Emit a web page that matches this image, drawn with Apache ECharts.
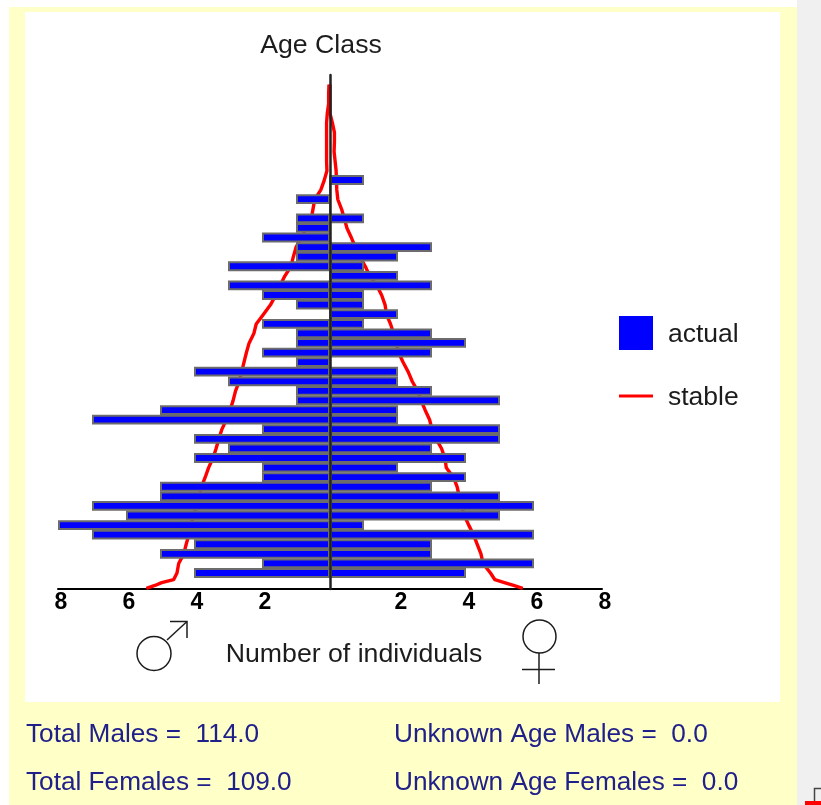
<!DOCTYPE html>
<html>
<head>
<meta charset="utf-8">
<style>
html, body { margin: 0; padding: 0; background: #fff; }
#chart { width: 821px; height: 805px; }
</style>
<script src="https://cdn.jsdelivr.net/npm/echarts@6/dist/echarts.min.js"></script>
</head>
<body>
<div id="chart"></div>
<script>
// rows that hold bars, youngest first
var ageClasses = ["1","2","3","4","5","6","7","8","9","10","11","12","13","14","15","16","17","18","19","20","21",
  "22","23","24","25","26","27","28","29","30","31","32","33","34","35","36","37","38","39","40","41","42"];
var actualMales = [4,2,5,4,7,8,6,7,5,5,2,2,4,3,4,2,7,5,1,1,3,4,1,2,1,1,
  2,0,1,2,3,0,3,1,1,2,1,1,0,1,0,0];
var actualFemales = [4,6,3,3,6,1,5,6,5,3,4,2,4,3,5,5,2,2,5,3,2,2,0,3,4,3,
  1,2,1,1,3,2,1,2,3,0,0,1,0,0,0,1];

// stable age distribution
var stableAges = [-0.6,-0.3,0,0.3,1,2,3,4,5,6,7,8,9,10,11,12,13,14,15,16,17,18,19,20,21,22,23,24,25,26,
  27,28,29,30,31,32,33,34,35,36,37,38,39,40,41,42,43,44,45,46,47,48,49,50,51,52];
var stableMales = [5.4,5.15,4.95,4.6,4.5,4.45,4.3,4.23,4.15,4.1,4.0,3.93,3.85,3.78,3.67,3.57,3.44,3.35,3.27,3.18,
  3.05,2.94,2.85,2.78,2.67,2.6,2.53,2.46,2.38,2.24,2.17,1.96,1.75,1.6,1.47,1.33,1.15,1.08,1.0,0.85,0.7,0.55,0.5,
  0.45,0.27,0.17,0.09,0.1,0.1,0.1,0.1,0.1,0.08,0.04,0.04,0.03];
var stableFemales = [5.67,5.4,5.13,4.85,4.72,4.5,4.44,4.33,4.22,4.08,3.95,3.87,3.8,3.74,3.63,3.42,3.38,3.28,3.12,
  3.0,2.93,2.8,2.68,2.58,2.42,2.3,2.15,2.02,1.95,1.87,1.78,1.66,1.62,1.52,1.38,1.17,1.04,0.88,0.75,0.63,0.5,0.42,
  0.34,0.23,0.2,0.19,0.18,0.15,0.12,0.13,0.13,0.07,0,0,0,0];

var axisTicks = [-8,-6,-4,-2,2,4,6,8];
var summary = [
  ["Total Males =  114.0", "Unknown Age Males =  0.0"],
  ["Total Females =  109.0", "Unknown Age Females =  0.0"]
];

var FONT = '"Liberation Sans", Arial, sans-serif';
var NAVY = "#20208a";
var INK = "#1c1c1c";
var SUMMARY_FONT = "26.2px " + FONT;

var chartDom = document.getElementById("chart");
var myChart = echarts.init(chartDom);

function negate(list) {
  return list.map(function (v) { return -v; });
}
function pairUp(xs, ys) {
  return xs.map(function (x, i) { return [x, ys[i]]; });
}
function absLabel(v) {
  return axisTicks.indexOf(v) >= 0 ? String(Math.abs(v)) : "";
}

// echarts keeps the bar border inside barWidth
var barStyle = { color: "#0000ff", borderColor: "#6c6c6c", borderWidth: 2 };
var stableStyle = { color: "#ff0000", width: 3.4 };

var option = {
  animation: false,
  backgroundColor: "#ffffff",
  textStyle: { fontFamily: FONT },
  graphic: [
    { type: "rect", z: -10, silent: true, shape: { x: 797, y: 0, width: 24, height: 805 }, style: { fill: "#f0f0f0" } },
    { type: "rect", z: -10, silent: true, shape: { x: 9, y: 7, width: 788, height: 798 }, style: { fill: "#ffffc8" } },
    { type: "rect", z: -9, silent: true, shape: { x: 25, y: 12, width: 755, height: 690 }, style: { fill: "#ffffff" } },
    // corner of the next window, cut off by the screenshot
    { type: "polyline", silent: true, shape: { points: [[814.5, 801], [814.5, 788.5], [821, 788.5]] }, style: { fill: "none", stroke: "#444", lineWidth: 1.5 } },
    { type: "rect", silent: true, shape: { x: 805, y: 801, width: 16, height: 4 }, style: { fill: "#ff0000" } },
    // male sign
    { type: "circle", silent: true, shape: { cx: 154, cy: 653.5, r: 17 }, style: { fill: "none", stroke: INK, lineWidth: 1.5 } },
    { type: "polyline", silent: true, shape: { points: [[167, 640], [187, 621.5]] }, style: { fill: "none", stroke: INK, lineWidth: 1.5 } },
    { type: "polyline", silent: true, shape: { points: [[170, 621.5], [187, 621.5], [187, 638]] }, style: { fill: "none", stroke: INK, lineWidth: 1.5 } },
    // female sign
    { type: "circle", silent: true, shape: { cx: 539.5, cy: 636.5, r: 16.5 }, style: { fill: "none", stroke: INK, lineWidth: 1.5 } },
    { type: "polyline", silent: true, shape: { points: [[539, 653], [539, 684]] }, style: { fill: "none", stroke: INK, lineWidth: 1.5 } },
    { type: "polyline", silent: true, shape: { points: [[522, 669.5], [555, 669.5]] }, style: { fill: "none", stroke: INK, lineWidth: 1.5 } },
    // totals under the plot
    { type: "text", silent: true, x: 26, y: 735, style: { text: summary[0][0], font: SUMMARY_FONT, fill: NAVY, textVerticalAlign: "middle" } },
    { type: "text", silent: true, x: 394, y: 735, style: { text: summary[0][1], font: SUMMARY_FONT, fill: NAVY, textVerticalAlign: "middle" } },
    { type: "text", silent: true, x: 26, y: 783, style: { text: summary[1][0], font: SUMMARY_FONT, fill: NAVY, textVerticalAlign: "middle" } },
    { type: "text", silent: true, x: 394, y: 783, style: { text: summary[1][1], font: SUMMARY_FONT, fill: NAVY, textVerticalAlign: "middle" } }
  ],
  legend: {
    left: 619,
    top: 316,
    padding: 0,
    orient: "vertical",
    itemWidth: 34,
    itemHeight: 38,
    itemGap: 25,
    textStyle: { fontFamily: FONT, fontSize: 26.5, color: INK, padding: [0, 0, 0, 10] },
    data: [
      // icons are 34 tall inside a 38 box so the text sits a little below their middle
      { name: "actual", icon: "path://M0 0H34V34H0ZM34 38L34 38", itemStyle: { color: "#0000ff", borderWidth: 0 } },
      { name: "stable", icon: "path://M0 0L0 0M0 15.5H34V18.5H0ZM34 38L34 38", itemStyle: { color: "#ff0000" } }
    ]
  },
  grid: [
    // stable curves and the visible axes
    { left: 58, top: 75, width: 544, height: 514 },
    // bars: one band per age class, sitting over the curves
    { left: 58, top: 175.2, width: 544, height: 402.6 }
  ],
  xAxis: [
    {
      gridIndex: 0,
      type: "value",
      min: -8,
      max: 8,
      interval: 2,
      splitLine: { show: false },
      axisTick: { show: false },
      axisLine: { onZero: false, lineStyle: { color: "#000", width: 2 } },
      axisLabel: {
        formatter: absLabel,
        fontFamily: FONT,
        fontSize: 23,
        fontWeight: "bold",
        color: "#000",
        margin: 2,
        padding: [0, 0, 0, 6],
        showMinLabel: true,
        showMaxLabel: true
      },
      name: "Number of individuals",
      nameLocation: "middle",
      nameGap: 52,
      nameTextStyle: { fontFamily: FONT, fontSize: 26.7, color: INK, padding: [0, 0, 0, 48] }
    },
    { gridIndex: 1, type: "value", min: -8, max: 8, interval: 2, show: false }
  ],
  yAxis: [
    {
      gridIndex: 0,
      type: "value",
      min: -0.67,
      max: 53,
      z: 5,
      splitLine: { show: false },
      axisTick: { show: false },
      axisLabel: { show: false },
      axisLine: { show: true, onZero: true, lineStyle: { color: "#222", width: 2.5 } },
      name: "Age Class",
      nameLocation: "end",
      nameGap: 16,
      nameTextStyle: { fontFamily: FONT, fontSize: 26.7, color: INK, align: "center", padding: [0, 18, 0, 0] }
    },
    {
      gridIndex: 1,
      type: "category",
      data: ageClasses,
      show: false
    }
  ],
  series: [
    {
      name: "stable", type: "line", xAxisIndex: 0, yAxisIndex: 0, z: 1, symbol: "none",
      itemStyle: { color: "#ff0000" }, lineStyle: stableStyle,
      data: pairUp(negate(stableMales), stableAges)
    },
    {
      name: "stable", type: "line", xAxisIndex: 0, yAxisIndex: 0, z: 1, symbol: "none",
      itemStyle: { color: "#ff0000" }, lineStyle: stableStyle,
      data: pairUp(stableFemales, stableAges)
    },
    {
      name: "actual", type: "bar", xAxisIndex: 1, yAxisIndex: 1, z: 2, barWidth: 9.8, barGap: "-100%",
      itemStyle: barStyle,
      data: negate(actualMales)
    },
    {
      name: "actual", type: "bar", xAxisIndex: 1, yAxisIndex: 1, z: 2, barWidth: 9.8, barGap: "-100%",
      itemStyle: barStyle,
      data: actualFemales
    }
  ]
};

option && myChart.setOption(option);
</script>
</body>
</html>
